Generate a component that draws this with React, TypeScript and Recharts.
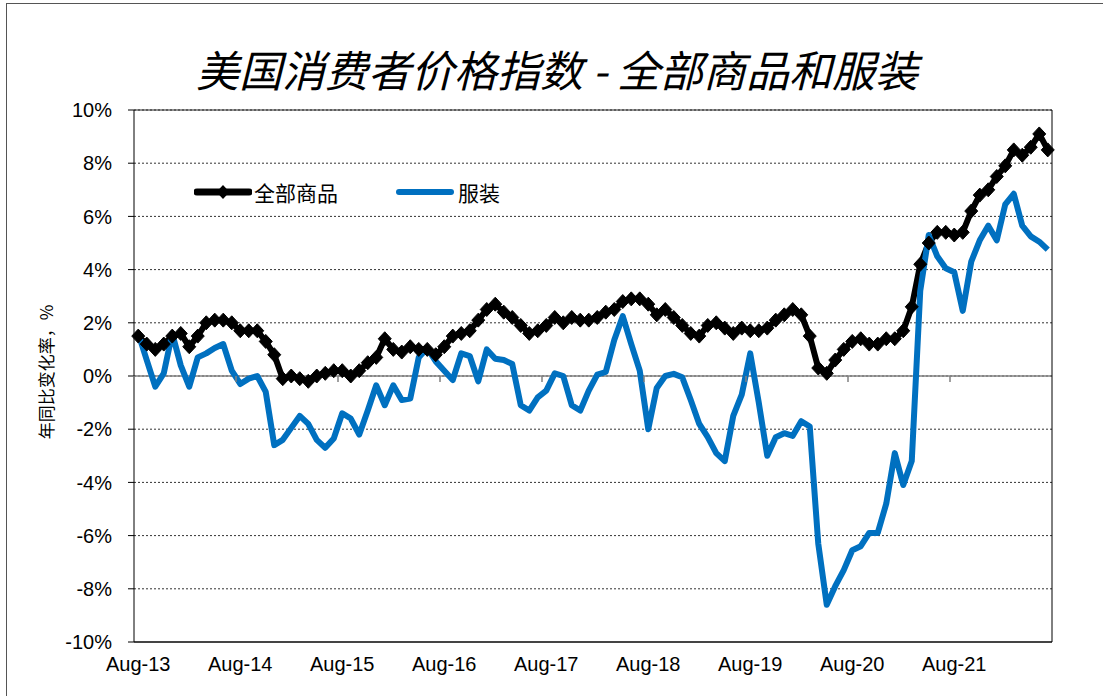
import React from "react";
import {
  LineChart,
  Line,
  XAxis,
  YAxis,
  CartesianGrid,
  ReferenceLine,
} from "recharts";

// months run Aug-13 .. Jul-22
const monthNames = ["Jan", "Feb", "Mar", "Apr", "May", "Jun", "Jul", "Aug", "Sep", "Oct", "Nov", "Dec"];

const xTickLabels = ["Aug-13", "Aug-14", "Aug-15", "Aug-16", "Aug-17", "Aug-18", "Aug-19", "Aug-20", "Aug-21"];

const yTicks = [-10, -8, -6, -4, -2, 0, 2, 4, 6, 8, 10];

// 全部商品 (all items), y/y %
const allItems = [
  1.5, 1.2, 1.0, 1.2, 1.5,
  1.6, 1.1, 1.5, 2.0, 2.1, 2.1, 2.0, 1.7, 1.7, 1.7, 1.3, 0.8,
  -0.1, 0.0, -0.1, -0.2, 0.0, 0.1, 0.2, 0.2, 0.0, 0.2, 0.5, 0.7,
  1.4, 1.0, 0.9, 1.1, 1.0, 1.0, 0.8, 1.1, 1.5, 1.6, 1.7, 2.1,
  2.5, 2.7, 2.4, 2.2, 1.9, 1.6, 1.7, 1.9, 2.2, 2.0, 2.2, 2.1,
  2.1, 2.2, 2.4, 2.5, 2.8, 2.9, 2.9, 2.7, 2.3, 2.5, 2.2, 1.9,
  1.6, 1.5, 1.9, 2.0, 1.8, 1.6, 1.8, 1.7, 1.7, 1.8, 2.1, 2.3,
  2.5, 2.3, 1.5, 0.3, 0.1, 0.6, 1.0, 1.3, 1.4, 1.2, 1.2, 1.4,
  1.4, 1.7, 2.6, 4.2, 5.0, 5.4, 5.4, 5.3, 5.4, 6.2, 6.8, 7.0,
  7.5, 7.9, 8.5, 8.3, 8.6, 9.1, 8.5,
];

// 服装 (apparel), y/y %
const apparel = [
  1.6, 0.6, -0.4, 0.1, 1.6,
  0.4, -0.4, 0.7, 0.85, 1.05, 1.2, 0.2, -0.3, -0.1, 0.0, -0.6, -2.6,
  -2.4, -1.95, -1.5, -1.8, -2.4, -2.7, -2.35, -1.4, -1.6, -2.2, -1.3, -0.35,
  -1.1, -0.35, -0.9, -0.85, 0.7, 1.05, 0.55, 0.2, -0.15, 0.85, 0.75, -0.2,
  1.0, 0.65, 0.6, 0.45, -1.1, -1.3, -0.8, -0.55, 0.1, 0.0, -1.1, -1.3,
  -0.55, 0.05, 0.15, 1.35, 2.25, 1.2, 0.2, -2.0, -0.45, 0.0, 0.08, -0.05,
  -0.9, -1.8, -2.3, -2.9, -3.2, -1.5, -0.7, 0.85, -1.0, -3.0, -2.3, -2.15,
  -2.25, -1.7, -1.9, -6.3, -8.6, -7.9, -7.3, -6.55, -6.4, -5.9, -5.9, -4.8,
  -2.9, -4.1, -3.2, 3.2, 5.3, 4.5, 4.05, 3.9, 2.45, 4.3, 5.1, 5.65,
  5.1, 6.45, 6.85, 5.65, 5.25, 5.05, 4.75,
];

const categories: string[] = [];
for (let k = 0; k < allItems.length; k++) {
  const m = (7 + k) % 12;
  const yr = 13 + Math.floor((7 + k) / 12);
  categories.push(monthNames[m] + "-" + yr);
}

const data = categories.map((c, i) => ({
  i,
  month: c,
  all: allItems[i],
  apparel: apparel[i],
}));

const tickIdx = xTickLabels.map((l) => categories.indexOf(l));

const W = 1103;
const H = 696;
const PLOT_LEFT = 134;
const PLOT_RIGHT = 1052;
const PLOT_TOP = 110;
const PLOT_BOTTOM = 642;
const HALF_BAND = (PLOT_RIGHT - PLOT_LEFT) / categories.length / 2;
const ZERO_Y = (PLOT_TOP + PLOT_BOTTOM) / 2;

const numFont = "'Liberation Sans', Arial, sans-serif";
const cjkFont = "'Noto Sans CJK SC', sans-serif";

const XTick = (props: any) => {
  const { x, payload } = props;
  const label = categories[payload.value];
  return (
    <g>
      <line x1={x - HALF_BAND} x2={x - HALF_BAND} y1={ZERO_Y} y2={ZERO_Y + 6} stroke="#808080" strokeWidth={1.5} />
      <text x={x} y={PLOT_BOTTOM + 29} textAnchor="middle" fontSize={20} fontFamily={numFont} fill="#000">
        {label}
      </text>
    </g>
  );
};

const Diamond = (props: any) => {
  const { cx, cy } = props;
  if (cx == null || cy == null) return null;
  return (
    <polygon
      points={`${cx},${cy - 7} ${cx + 6.5},${cy} ${cx},${cy + 7} ${cx - 6.5},${cy}`}
      fill="#000"
      stroke="#000"
    />
  );
};

export default function App() {
  return (
    <div style={{ position: "absolute", left: 0, top: 0, width: W, height: H, background: "#fff", overflow: "hidden" }}>
      <div style={{ position: "absolute", left: 6, top: 3, width: W, height: H, border: "1px solid #555" }} />
      <div
        style={{
          position: "absolute",
          left: 0,
          top: 40,
          width: 1114,
          textAlign: "center",
          fontFamily: cjkFont,
          fontStyle: "italic",
          fontSize: 43,
          lineHeight: "56px",
          color: "#000",
          whiteSpace: "nowrap",
        }}
      >
        美国消费者价格指数 - 全部商品和服装
      </div>
      <div
        style={{
          position: "absolute",
          left: 46 - 100,
          top: 372 - 12,
          width: 200,
          height: 24,
          lineHeight: "24px",
          textAlign: "center",
          transform: "rotate(-90deg)",
          fontFamily: cjkFont,
          fontSize: 17,
          color: "#000",
          whiteSpace: "nowrap",
        }}
      >
        年同比变化率，%
      </div>
      <LineChart
        width={W}
        height={H}
        data={data}
        margin={{ top: PLOT_TOP, right: W - PLOT_RIGHT, bottom: 0, left: 0 }}
        style={{ position: "absolute", left: 0, top: 0 }}
      >
        <CartesianGrid vertical={false} stroke="#333" strokeDasharray="2 2" />
        <XAxis
          type="number"
          dataKey="i"
          domain={[-0.5, categories.length - 0.5]}
          ticks={tickIdx}
          interval={0}
          axisLine={false}
          tickLine={false}
          height={H - PLOT_BOTTOM}
          tick={<XTick />}
        />
        <YAxis
          type="number"
          domain={[-10, 10]}
          ticks={yTicks}
          interval={0}
          width={PLOT_LEFT}
          tickFormatter={(v: number) => `${v}%`}
          axisLine={{ stroke: "#000" }}
          tickLine={{ stroke: "#000" }}
          tickSize={6}
          tickMargin={16}
          tick={{ fontSize: 20, fontFamily: numFont, fill: "#000" }}
        />
        <ReferenceLine y={0} stroke="#808080" strokeWidth={1.5} />
        <ReferenceLine y={10} stroke="#222" />
        <ReferenceLine y={-10} stroke="#444" strokeWidth={2} />
        <ReferenceLine x={categories.length - 0.5} stroke="#000" />
        <Line
          dataKey="all"
          stroke="#000"
          strokeWidth={6}
          dot={<Diamond />}
          activeDot={false}
          isAnimationActive={false}
        />
        <Line
          dataKey="apparel"
          stroke="#0070C0"
          strokeWidth={6}
          strokeLinejoin="round"
          dot={false}
          activeDot={false}
          isAnimationActive={false}
        />
      </LineChart>
      <div style={{ position: "absolute", left: 194, top: 179, display: "flex", alignItems: "center", fontFamily: cjkFont, fontSize: 21, color: "#000" }}>
        <svg width={58} height={26}>
          <line x1={3} x2={55} y1={13} y2={13} stroke="#000" strokeWidth={7} strokeLinecap="round" />
          <polygon points="29,6 35.5,13 29,20 22.5,13" fill="#000" />
        </svg>
        <span style={{ marginLeft: 2, lineHeight: "26px" }}>全部商品</span>
        <svg width={58} height={26} style={{ marginLeft: 58 }}>
          <line x1={3} x2={55} y1={13} y2={13} stroke="#0070C0" strokeWidth={6} strokeLinecap="round" />
        </svg>
        <span style={{ marginLeft: 4, lineHeight: "26px" }}>服装</span>
      </div>
    </div>
  );
}
